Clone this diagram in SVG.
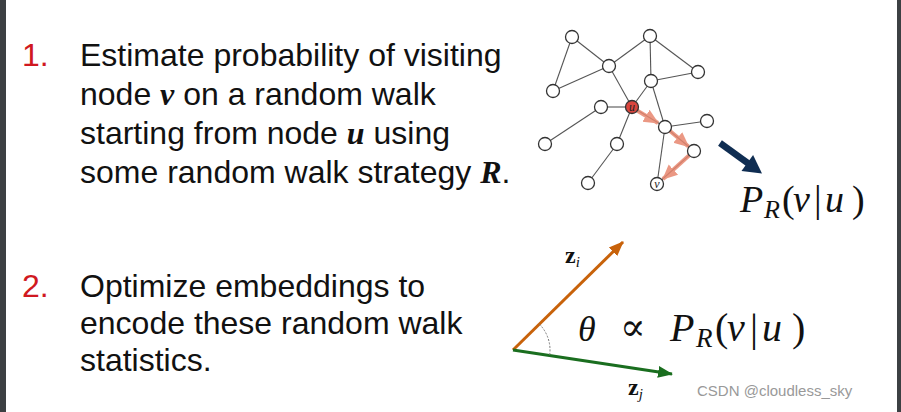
<svg xmlns="http://www.w3.org/2000/svg" width="901" height="412" viewBox="0 0 901 412">
<style>
.t{font-family:"Liberation Sans",Arial,sans-serif;font-size:32px;fill:#111}
.num{font-family:"Liberation Sans",Arial,sans-serif;font-size:32px;fill:#d01820}
.mi{font-family:"Liberation Serif","Times New Roman",serif;font-style:italic;font-weight:bold}
.m{font-family:"Liberation Serif","DejaVu Serif",serif;font-style:italic;fill:#111}
.up{font-style:normal}
.e{stroke:#555;stroke-width:1.1;fill:none}
.n{fill:#fff;stroke:#333;stroke-width:1.3}
.w{stroke:#e8876f;stroke-width:4;fill:none;opacity:0.85}
.nl{font-family:"Liberation Serif",serif;font-style:italic;font-size:12px;fill:#222}
.z{font-family:"Liberation Serif",serif;font-weight:bold;font-size:24px;fill:#111}
.sub{font-style:italic;font-weight:normal;font-size:15px}
</style>
<defs>
<marker id="ra" markerUnits="userSpaceOnUse" markerWidth="16" markerHeight="16" refX="14" refY="8" orient="auto"><path d="M0,1 L15,8 L0,15 z" fill="#e8876f"/></marker>
<marker id="oa" markerUnits="userSpaceOnUse" markerWidth="16" markerHeight="14" refX="14" refY="7" orient="auto"><path d="M0,1 L15,7 L0,13 z" fill="#c8620a"/></marker>
<marker id="ga" markerUnits="userSpaceOnUse" markerWidth="16" markerHeight="14" refX="14" refY="7" orient="auto"><path d="M0,1 L15,7 L0,13 z" fill="#1a6e1f"/></marker>
</defs>
<rect width="901" height="412" fill="#fff"/>
<rect x="0" y="0" width="6" height="412" fill="#3c4043"/>
<rect x="897" y="0" width="4" height="412" fill="#3c4043"/>

<g id="text1">
<text class="num" x="22" y="66">1.</text>
<text class="t" x="80" y="66">Estimate probability of visiting</text>
<text class="t" x="80" y="105">node <tspan class="mi">v</tspan> on a random walk</text>
<text class="t" x="80" y="144">starting from node <tspan class="mi">u</tspan> using</text>
<text class="t" x="80" y="183">some random walk strategy <tspan class="mi">R</tspan>.</text>
</g>
<g id="text2">
<text class="num" x="22" y="297">2.</text>
<text class="t" x="80" y="297">Optimize embeddings to</text>
<text class="t" x="80" y="334">encode these random walk</text>
<text class="t" x="80" y="371">statistics.</text>
</g>

<g id="connectors">
<line class="e" x1="572" y1="37" x2="609" y2="66"/>
<line class="e" x1="572" y1="37" x2="553" y2="91"/>
<line class="e" x1="553" y1="91" x2="609" y2="66"/>
<line class="e" x1="609" y1="66" x2="650" y2="36"/>
<line class="e" x1="650" y1="36" x2="651" y2="81"/>
<line class="e" x1="650" y1="36" x2="698" y2="72"/>
<line class="e" x1="651" y1="81" x2="698" y2="72"/>
<line class="e" x1="609" y1="66" x2="632" y2="107"/>
<line class="e" x1="651" y1="81" x2="632" y2="107"/>
<line class="e" x1="651" y1="81" x2="665" y2="127"/>
<line class="e" x1="632" y1="107" x2="601" y2="107"/>
<line class="e" x1="601" y1="107" x2="545" y2="144"/>
<line class="e" x1="632" y1="107" x2="617" y2="144"/>
<line class="e" x1="617" y1="144" x2="588" y2="183"/>
<line class="e" x1="632" y1="107" x2="665" y2="127"/>
<line class="e" x1="665" y1="127" x2="707" y2="121"/>
<line class="e" x1="665" y1="127" x2="657" y2="184"/>
<line class="e" x1="665" y1="127" x2="694" y2="151"/>
<line class="e" x1="694" y1="151" x2="657" y2="184"/>
<line class="w" x1="637" y1="110.5" x2="658" y2="123" marker-end="url(#ra)"/>
<line class="w" x1="670" y1="131" x2="688.5" y2="146.5" marker-end="url(#ra)"/>
<line class="w" x1="689" y1="155.5" x2="663" y2="179" marker-end="url(#ra)"/>
</g>

<g id="nodes">
<circle class="n" cx="572" cy="37" r="6.5"/>
<circle class="n" cx="650" cy="36" r="6.5"/>
<circle class="n" cx="609" cy="66" r="6.5"/>
<circle class="n" cx="698" cy="72" r="6.5"/>
<circle class="n" cx="553" cy="91" r="6.5"/>
<circle class="n" cx="651" cy="81" r="6.5"/>
<circle class="n" cx="601" cy="107" r="6.5"/>
<circle class="n" cx="665" cy="127" r="6.5"/>
<circle class="n" cx="707" cy="121" r="6.5"/>
<circle class="n" cx="545" cy="144" r="6.5"/>
<circle class="n" cx="617" cy="144" r="6.5"/>
<circle class="n" cx="694" cy="151" r="6.5"/>
<circle class="n" cx="588" cy="183" r="6.5"/>
</g>
<g id="node-u">
<circle cx="632" cy="107" r="6.5" fill="#d9453e" stroke="#333" stroke-width="1.3"/>
<text class="nl" x="632" y="111" text-anchor="middle">u</text>
</g>
<g id="node-v">
<circle class="n" cx="657" cy="184" r="6.5"/>
<text class="nl" x="657" y="188" text-anchor="middle">v</text>
</g>

<g id="big-arrow">
<line x1="720" y1="143" x2="749" y2="164" stroke="#0f2d52" stroke-width="6.5"/>
<polygon points="762,173.5 741.5,171.1 753.1,154.9" fill="#0f2d52"/>
</g>

<g id="formula1">
<text class="m" y="212" font-size="38"><tspan x="740">P</tspan><tspan x="764" dy="6" font-size="26">R</tspan><tspan class="up" x="782" dy="-6">(</tspan><tspan x="793">v</tspan><tspan class="up" x="814">|</tspan><tspan x="825">u</tspan><tspan class="up" x="852">)</tspan></text>
</g>

<g id="vectors">
<line x1="513" y1="350" x2="623" y2="242" stroke="#c8620a" stroke-width="3" marker-end="url(#oa)"/>
<line x1="513" y1="350" x2="672" y2="374" stroke="#1a6e1f" stroke-width="3" marker-end="url(#ga)"/>
<path d="M539.4,324.1 A37,37 0 0 1 549.6,355.5" fill="none" stroke="#777" stroke-width="1" stroke-dasharray="2,1.5"/>
<text class="z" x="565" y="263">z<tspan class="sub" dy="4">i</tspan></text>
<text class="z" x="628" y="395">z<tspan class="sub" dy="4">j</tspan></text>
</g>

<g id="formula2">
<text class="m" x="578" y="341" font-size="36">θ</text>
<text x="620" y="340" font-family="DejaVu Serif,serif" font-size="38" fill="#111">∝</text>
<text class="m" y="341" font-size="40"><tspan x="670">P</tspan><tspan x="696" dy="6" font-size="27">R</tspan><tspan class="up" x="715" dy="-6">(</tspan><tspan x="727">v</tspan><tspan class="up" x="750">|</tspan><tspan x="762">u</tspan><tspan class="up" x="792">)</tspan></text>
</g>

<text x="697" y="396" font-family="Liberation Sans,Arial,sans-serif" font-size="15" fill="#999">CSDN @cloudless_sky</text>
</svg>
